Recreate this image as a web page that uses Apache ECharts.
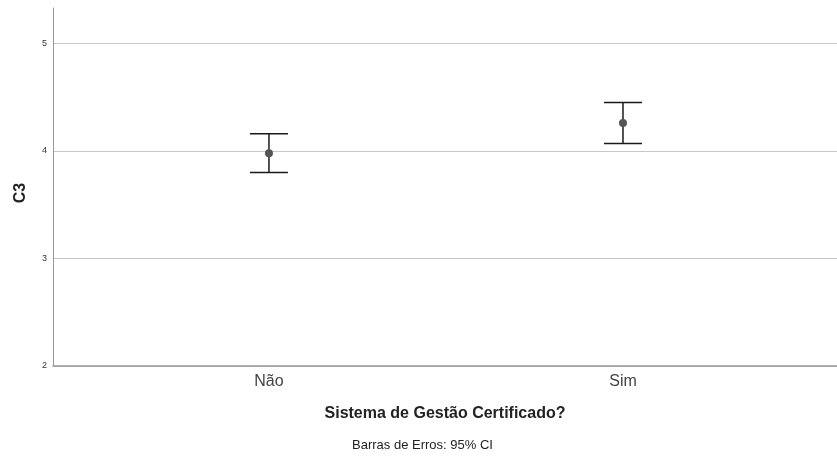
<!DOCTYPE html>
<html>
<head>
<meta charset="utf-8">
<script src="https://cdn.jsdelivr.net/npm/echarts@6/dist/echarts.min.js"></script>
<style>html,body{margin:0;padding:0;background:#fff}#c{width:837px;height:460px}</style>
</head>
<body>
<div id="c"></div>
<script>
var categories = ['Não', 'Sim'];
var means = [3.98, 4.26];
var lowerCI = [3.80, 4.07];
var upperCI = [4.16, 4.45];
var yTicks = [2, 3, 4, 5];

var chart = echarts.init(document.getElementById('c'), null, {renderer: 'canvas'});
var FONT = '"Liberation Sans", Arial, sans-serif';

var barData = categories.map(function (c, i) { return [i + 1, lowerCI[i], upperCI[i]]; });
var meanData = categories.map(function (c, i) { return [i + 1, means[i]]; });

chart.setOption({
  animation: false,
  backgroundColor: '#fff',
  grid: {left: 53, right: 0, top: 8, bottom: 94},
  xAxis: {
    type: 'value', min: 0.39, max: 2.6045,
    name: 'Sistema de Gestão Certificado?', nameLocation: 'middle', nameGap: 40,
    nameTextStyle: {fontFamily: FONT, fontSize: 16, fontWeight: 'bold', color: '#222'},
    axisLine: {show: true, lineStyle: {color: '#999', width: 1.5}},
    axisTick: {show: false, customValues: [1, 2]},
    splitLine: {show: false},
    axisLabel: {customValues: [1, 2], margin: 8, fontFamily: FONT, fontSize: 16, color: '#444',
      formatter: function (v) { return categories[Math.round(v) - 1]; }}
  },
  yAxis: {
    type: 'value', min: 2, max: 5.33,
    name: 'C3', nameLocation: 'middle', nameGap: 24, nameRotate: 90,
    nameTextStyle: {fontFamily: FONT, fontSize: 16, fontWeight: 'bold', color: '#222', padding: [0, 12, 0, 0]},
    axisLine: {show: true, lineStyle: {color: '#999', width: 1}},
    axisTick: {show: false, customValues: yTicks},
    splitLine: {show: true, lineStyle: {color: '#c8c8c8', width: 1}},
    axisLabel: {customValues: yTicks, margin: 6, fontFamily: FONT, fontSize: 9, color: '#333'}
  },
  graphic: [{
    type: 'text', left: 352, top: 439,
    style: {text: 'Barras de Erros: 95% CI', fontFamily: FONT, fontSize: 13, fill: '#222'}
  }],
  series: [{
    type: 'custom',
    data: barData,
    z: 2,
    renderItem: function (params, api) {
      var x = api.value(0);
      var top = api.coord([x, api.value(2)]);
      var bot = api.coord([x, api.value(1)]);
      var hw = 19;
      var st = {stroke: '#1a1a1a', lineWidth: 1.5};
      return {type: 'group', children: [
        {type: 'line', shape: {x1: top[0], y1: top[1], x2: bot[0], y2: bot[1]}, style: st},
        {type: 'line', shape: {x1: top[0] - hw, y1: top[1], x2: top[0] + hw, y2: top[1]}, style: st},
        {type: 'line', shape: {x1: bot[0] - hw, y1: bot[1], x2: bot[0] + hw, y2: bot[1]}, style: st}
      ]};
    }
  }, {
    type: 'scatter',
    data: meanData,
    z: 3,
    symbol: 'circle', symbolSize: 8,
    itemStyle: {color: '#555', opacity: 1}
  }]
});
</script>
</body>
</html>
